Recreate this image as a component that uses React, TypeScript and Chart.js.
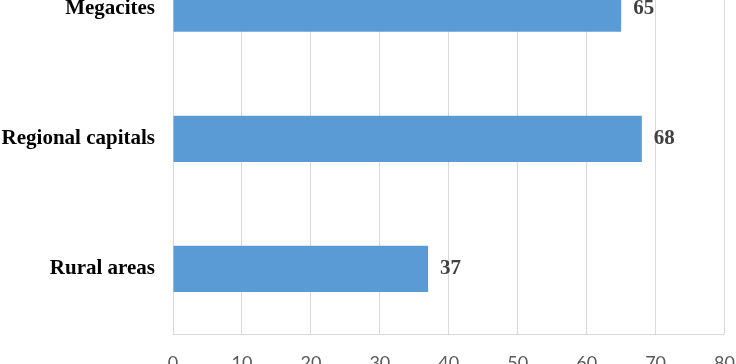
import React, { useEffect, useRef } from "react";
import { Chart, registerables } from "chart.js";

Chart.register(...registerables);

const categories = ["Megacites", "Regional capitals", "Rural areas"];
const values = [65, 68, 37];
const xMin = 0;
const xMax = 80;
const xStep = 10;

const valueLabelPlugin = {
  id: "valueLabels",
  afterDatasetsDraw(chart: any) {
    const ctx = chart.ctx;
    const meta = chart.getDatasetMeta(0);
    ctx.save();
    ctx.font = "bold 21px 'Liberation Serif'";
    ctx.fillStyle = "#404040";
    ctx.textAlign = "left";
    ctx.textBaseline = "middle";
    meta.data.forEach((bar: any, i: number) => {
      ctx.fillText(String(values[i]), bar.x + 12, bar.y);
    });
    ctx.restore();
  },
};

export default function App() {
  const ref = useRef<HTMLCanvasElement>(null);
  useEffect(() => {
    if (!ref.current) return;
    const chart = new Chart(ref.current, {
      type: "bar",
      data: {
        labels: categories,
        datasets: [
          {
            data: values,
            backgroundColor: "#5B9BD5",
            barPercentage: 0.355,
            categoryPercentage: 1,
          },
        ],
      },
      options: {
        indexAxis: "y",
        responsive: false,
        animation: false,
        layout: { padding: { top: 14, left: 0, right: 13, bottom: 0 } },
        plugins: {
          legend: { display: false },
          tooltip: { enabled: false },
        },
        scales: {
          x: {
            min: xMin,
            max: xMax,
            ticks: {
              stepSize: xStep,
              padding: 18,
              color: "#595959",
              font: { family: "Lato", size: 18 },
            },
            grid: { color: "#d9d9d9", drawTicks: false },
            border: { color: "#d9d9d9" },
            afterFit: (scale: any) => {
              scale.height = 50;
            },
          },
          y: {
            ticks: {
              padding: 18,
              color: "#000000",
              font: { family: "'Liberation Serif'", size: 21, weight: "bold" },
            },
            grid: { display: false, drawTicks: false },
            border: { display: false },
            afterFit: (scale: any) => {
              scale.width = 173;
            },
          },
        },
      },
      plugins: [valueLabelPlugin],
    });
    return () => chart.destroy();
  }, []);
  return (
    <div
      style={{
        position: "fixed",
        left: 0,
        top: 0,
        width: 736,
        height: 364,
        overflow: "hidden",
        background: "#fff",
      }}
    >
      <canvas
        ref={ref}
        width={753}
        height={471}
        style={{ position: "absolute", left: 0, top: -87, width: 753, height: 471 }}
      />
    </div>
  );
}
